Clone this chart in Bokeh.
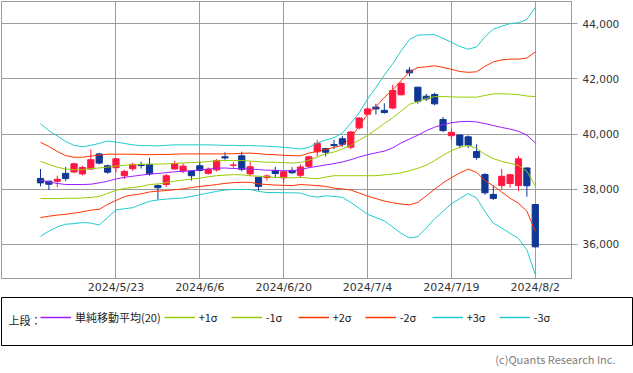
from bokeh.plotting import figure
from bokeh.models import (ColumnDataSource, Range1d, FixedTicker, NumeralTickFormatter,
                          Legend, LegendItem, Label)
from bokeh.layouts import column, row
from bokeh.embed import file_html
from bokeh.resources import INLINE

# ---------------- data ----------------
dates = ["2024/5/10", "2024/5/13", "2024/5/14", "2024/5/15", "2024/5/16", "2024/5/17",
         "2024/5/20", "2024/5/21", "2024/5/22", "2024/5/23", "2024/5/24", "2024/5/27",
         "2024/5/28", "2024/5/29", "2024/5/30", "2024/5/31", "2024/6/3", "2024/6/4",
         "2024/6/5", "2024/6/6", "2024/6/7", "2024/6/10", "2024/6/11", "2024/6/12",
         "2024/6/13", "2024/6/14", "2024/6/17", "2024/6/18", "2024/6/19", "2024/6/20",
         "2024/6/21", "2024/6/24", "2024/6/25", "2024/6/26", "2024/6/27", "2024/6/28",
         "2024/7/1", "2024/7/2", "2024/7/3", "2024/7/4", "2024/7/5", "2024/7/8",
         "2024/7/9", "2024/7/10", "2024/7/11", "2024/7/12", "2024/7/16", "2024/7/17",
         "2024/7/18", "2024/7/19", "2024/7/22", "2024/7/23", "2024/7/24", "2024/7/25",
         "2024/7/26", "2024/7/29", "2024/7/30", "2024/7/31", "2024/8/1", "2024/8/2"]

tick_labels = ["2024/5/23", "2024/6/6", "2024/6/20", "2024/7/4", "2024/7/19", "2024/8/2"]
y_ticks = [36000, 38000, 40000, 42000, 44000]

opens = [38390, 38290, 38290, 38575, 38625, 38555, 38735, 39280, 38850, 38780,
         38490, 38745, 38890, 38900, 38130, 38170, 38735, 38672, 38660, 38850,
         38575, 38700, 39175, 38870, 39210, 38555, 38430, 38420, 38683, 38410,
         38680, 38505, 38830, 39355, 39473, 39620, 39830, 39525, 40226, 40720,
         40980, 40860, 40945, 41425, 42320, 41700, 41375, 41436, 40528, 39940,
         39964, 39900, 39365, 38530, 37810, 38133, 38205, 38133, 38770, 37444]
highs = [38730, 38300, 38490, 38805, 38960, 38860, 39437, 39320, 38890, 39130,
         38700, 38960, 39000, 39140, 38170, 38550, 39030, 38934, 38680, 39010,
         38790, 39090, 39340, 38985, 39360, 39000, 38440, 38530, 38810, 38650,
         38800, 38900, 39220, 39790, 39500, 39790, 39930, 40110, 40620, 40980,
         41100, 41120, 41790, 41900, 42426, 41720, 41460, 41500, 40620, 40204,
         39990, 39950, 39630, 38580, 38130, 38730, 38560, 39200, 38790, 37460]
lows = [38100, 37970, 38070, 38290, 38580, 38500, 38700, 38900, 38560, 38610,
        38370, 38660, 38745, 38490, 37617, 38080, 38700, 38580, 38310, 38640,
        38530, 38640, 39067, 38770, 38650, 38467, 37950, 38310, 38420, 38230,
        38560, 38410, 38780, 39190, 39185, 39450, 39540, 39450, 40168, 40690,
        40710, 40743, 40900, 41400, 42102, 41100, 41200, 41040, 40072, 39785,
        39487, 39490, 39070, 37800, 37611, 37990, 38060, 37930, 37727, 35880]
closes = [38229, 38179, 38360, 38385, 38920, 38787, 39069, 38946, 38617, 39103,
          38646, 38900, 38855, 38556, 38054, 38487, 38923, 38837, 38490, 38680,
          38720, 39038, 39134, 38876, 38720, 38814, 38102, 38482, 38570, 38633,
          38596, 38804, 39173, 39667, 39341, 39583, 39631, 40074, 40580, 40913,
          40912, 40780, 41580, 41831, 42224, 41190, 41275, 41097, 40126, 40063,
          39599, 39594, 39154, 37869, 37667, 38468, 38525, 39101, 38126, 35909]

ma20 = [38330, 38260, 38210, 38170, 38170, 38170, 38180, 38230, 38290, 38370,
        38430, 38470, 38510, 38550, 38570, 38600, 38630, 38650, 38670, 38700,
        38730, 38760, 38770, 38750, 38740, 38730, 38710, 38690, 38680, 38670,
        38670, 38710, 38780, 38830, 38880, 38930, 38990, 39070, 39170, 39250,
        39320, 39380, 39500, 39680, 39820, 39960, 40120, 40250, 40340, 40410,
        40450, 40460, 40440, 40380, 40310, 40240, 40180, 40100, 39960, 39680]
plus1 = [39010, 38900, 38800, 38730, 38710, 38710, 38750, 38770, 38800, 38840,
         38870, 38890, 38900, 38910, 38910, 38920, 38940, 38950, 38970, 38980,
         39000, 39030, 39040, 39040, 39040, 39020, 39000, 38980, 38980, 38960,
         38950, 38970, 39050, 39170, 39280, 39350, 39460, 39590, 39780, 39950,
         40160, 40380, 40590, 40830, 41080, 41170, 41290, 41360, 41360, 41350,
         41340, 41340, 41340, 41400, 41460, 41460, 41450, 41430, 41380, 41360]
minus1 = [37660, 37660, 37660, 37670, 37670, 37680, 37700, 37740, 37850, 37960,
          38030, 38060, 38100, 38170, 38190, 38240, 38290, 38330, 38370, 38400,
          38450, 38490, 38510, 38530, 38520, 38490, 38470, 38450, 38430, 38420,
          38410, 38440, 38400, 38380, 38440, 38490, 38490, 38490, 38490, 38490,
          38490, 38520, 38550, 38590, 38670, 38760, 38870, 39040, 39230, 39400,
          39520, 39590, 39480, 39260, 39110, 39010, 38940, 38860, 38650, 38130]
plus2 = [39700, 39550, 39370, 39220, 39160, 39160, 39200, 39240, 39270, 39270,
         39270, 39270, 39260, 39250, 39260, 39260, 39270, 39280, 39280, 39280,
         39280, 39280, 39280, 39290, 39300, 39310, 39290, 39260, 39250, 39230,
         39220, 39210, 39310, 39370, 39440, 39520, 39590, 39860, 40290, 40720,
         40990, 41330, 41600, 41940, 42260, 42410, 42440, 42480, 42420, 42350,
         42270, 42240, 42260, 42460, 42620, 42690, 42720, 42720, 42760, 42980]
minus2 = [36970, 37020, 37060, 37090, 37130, 37180, 37240, 37270, 37450, 37590,
          37730, 37790, 37830, 37900, 37930, 37950, 37980, 38010, 38060, 38100,
          38130, 38170, 38210, 38240, 38250, 38250, 38190, 38170, 38150, 38140,
          38130, 38170, 38150, 38130, 38100, 38040, 38010, 37970, 37860, 37750,
          37660, 37570, 37510, 37460, 37430, 37520, 37760, 38000, 38230, 38420,
          38590, 38730, 38610, 38310, 38120, 37900, 37670, 37490, 37200, 36480]
plus3 = [40380, 40130, 39930, 39730, 39590, 39540, 39590, 39660, 39750, 39710,
         39660, 39610, 39580, 39580, 39570, 39590, 39610, 39610, 39610, 39610,
         39610, 39600, 39590, 39590, 39580, 39580, 39570, 39560, 39540, 39520,
         39490, 39460, 39520, 39680, 39780, 39870, 40040, 40390, 40770, 41270,
         41690, 42140, 42550, 43020, 43430, 43590, 43600, 43610, 43470, 43330,
         43180, 43080, 43160, 43530, 43810, 43910, 44010, 44040, 44160, 44600]
minus3 = [36290, 36480, 36630, 36730, 36750, 36790, 36770, 36700, 36970, 37250,
          37290, 37330, 37450, 37560, 37610, 37640, 37660, 37680, 37740, 37800,
          37860, 37920, 37970, 37990, 37990, 37990, 37920, 37880, 37880, 37870,
          37870, 37860, 37760, 37710, 37760, 37740, 37700, 37520, 37310, 37090,
          36970, 36850, 36630, 36400, 36230, 36280, 36590, 36930, 37200, 37470,
          37660, 37840, 37680, 37190, 36770, 36590, 36400, 36210, 35800, 34900]

legend_title = "上段："
legend_labels = ["単純移動平均(20)", "+1σ", "-1σ", "+2σ", "-2σ", "+3σ", "-3σ"]
copyright_text = "(c)Quants Research Inc."

# ---------------- styles ----------------
UP = "#ff1744"
DOWN = "#0f3796"
C_MA = "#9b1cff"
C_1 = "#99cc00"
C_2 = "#ff3300"
C_3 = "#1ecccc"
GRID = "#9c9c9c"
W = 633

idx = list(range(len(dates)))
colors = [UP if c >= o else DOWN for o, c in zip(opens, closes)]
src = ColumnDataSource(dict(
    x=idx, h=highs, l=lows,
    top=[max(o, c) for o, c in zip(opens, closes)],
    bottom=[min(o, c) for o, c in zip(opens, closes)],
    color=colors))

p = figure(width=W, height=296, x_range=Range1d(-4.65, 63.32),
           y_range=Range1d(34760, 44810), y_axis_location="right",
           toolbar_location=None, output_backend="svg",
           min_border_left=1, min_border_top=1, min_border_right=62,
           min_border_bottom=15, background_fill_color="white",
           border_fill_color="white")
p.outline_line_color = GRID
p.outline_line_width = 1

tick_pos = [dates.index(t) for t in tick_labels]
xt = FixedTicker(ticks=tick_pos)
p.xaxis.ticker = xt
p.xgrid.ticker = xt
p.xaxis.major_label_overrides = {i: dates[i] for i in tick_pos}
p.xaxis.major_tick_line_color = None
p.xaxis.major_tick_out = 0
p.xaxis.major_tick_in = 0
p.xaxis.minor_tick_line_color = None
p.xaxis.minor_tick_out = 0
p.xaxis.axis_line_color = GRID
p.xaxis.major_label_standoff = 2
p.xaxis.major_label_text_font = "DejaVu Sans"
p.xaxis.major_label_text_font_size = "11px"
p.xaxis.major_label_text_color = "#333333"

yt = FixedTicker(ticks=y_ticks)
p.yaxis.ticker = yt
p.ygrid.ticker = yt
p.yaxis.formatter = NumeralTickFormatter(format="0,0")
p.yaxis.major_tick_out = 6
p.yaxis.major_tick_in = 0
p.yaxis.major_tick_line_color = GRID
p.yaxis.minor_tick_line_color = None
p.yaxis.axis_line_color = GRID
p.yaxis.major_label_standoff = 5
p.yaxis.major_label_text_font = "DejaVu Sans"
p.yaxis.major_label_text_font_size = "10.5px"
p.yaxis.major_label_text_color = "#333333"

for g in (p.xgrid, p.ygrid):
    g.grid_line_color = GRID
    g.grid_line_width = 1

# candles
p.segment(x0="x", y0="h", x1="x", y1="l", line_color="color", line_width=1, source=src)
p.vbar(x="x", width=0.74, top="top", bottom="bottom", fill_color="color",
       line_color="color", line_width=1, source=src)

# bands
for arr, col in [(plus3, C_3), (minus3, C_3), (plus2, C_2), (minus2, C_2),
                 (plus1, C_1), (minus1, C_1), (ma20, C_MA)]:
    p.line(idx, arr, line_color=col, line_width=1)

# ---------------- legend box ----------------
lg = figure(width=W, height=50, x_range=Range1d(0, 1), y_range=Range1d(0, 1),
            x_axis_location=None, y_axis_location=None, toolbar_location=None,
            output_backend="svg", min_border=1, background_fill_color="white",
            border_fill_color="white")
lg.grid.visible = False
lg.outline_line_color = "black"
lg.outline_line_width = 1

items = []
for lab, col in zip(legend_labels, [C_MA, C_1, C_1, C_2, C_2, C_3, C_3]):
    r = lg.line(x=[float("nan")], y=[float("nan")], line_color=col, line_width=1.5)
    items.append(LegendItem(label=lab, renderers=[r]))

leg = Legend(items=items, orientation="horizontal", location=(39, 20),
             glyph_width=31, glyph_height=12, label_standoff=4, spacing=3,
             label_width=29, label_height=12, padding=0, margin=0,
             border_line_color=None, background_fill_alpha=0,
             label_text_font="Noto Sans CJK JP", label_text_font_size="11px",
             label_text_color="#222222", label_text_baseline="middle")
lg.add_layout(leg)
lg.add_layout(Label(x=7, y=26, x_units="screen", y_units="screen", text=legend_title,
                    text_font="Noto Sans CJK JP", text_font_size="11px",
                    text_color="#222222", text_baseline="middle"))

# ---------------- copyright ----------------
cp = figure(width=W, height=27, x_range=Range1d(0, 1), y_range=Range1d(0, 1),
            x_axis_location=None, y_axis_location=None, toolbar_location=None,
            output_backend="svg", min_border=0, background_fill_color="white",
            border_fill_color="white")
cp.grid.visible = False
cp.outline_line_color = None
cp.add_layout(Label(x=615, y=15, x_units="screen", y_units="screen", text=copyright_text,
                    text_align="right", text_baseline="middle",
                    text_font="Noto Sans CJK JP", text_font_size="11px",
                    text_color="#808080"))

layout = column(p, row(lg), row(cp), spacing=0)
open("out.html", "w").write(file_html(layout, INLINE))
